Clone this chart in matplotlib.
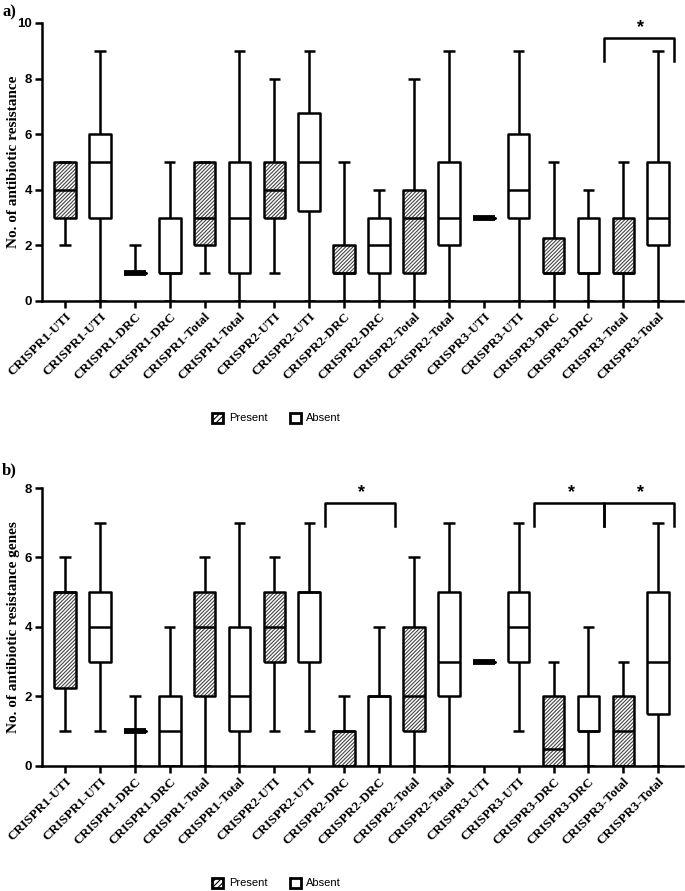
import numpy as np
from matplotlib import pyplot as plt
from matplotlib.patches import Rectangle, Patch

plt.rcParams['hatch.linewidth'] = 0.8
plt.rcParams['hatch.color'] = '#444444'

""" Data read from the figure """
labels = ['CRISPR1-UTI', 'CRISPR1-UTI', 'CRISPR1-DRC', 'CRISPR1-DRC',
          'CRISPR1-Total', 'CRISPR1-Total', 'CRISPR2-UTI', 'CRISPR2-UTI',
          'CRISPR2-DRC', 'CRISPR2-DRC', 'CRISPR2-Total', 'CRISPR2-Total',
          'CRISPR3-UTI', 'CRISPR3-UTI', 'CRISPR3-DRC', 'CRISPR3-DRC',
          'CRISPR3-Total', 'CRISPR3-Total']
present = [True, False] * 9

# panel a: antibiotic resistance
a_min = [2, 0, 1, 0, 1, 0, 1, 0, 0, 0, 0, 0, 3, 0, 0, 0, 0, 0]
a_q1 = [3, 3, 1, 1, 2, 1, 3, 3.25, 1, 1, 1, 2, 3, 3, 1, 1, 1, 2]
a_med = [4, 5, 1, 1, 3, 3, 4, 5, 1, 2, 3, 3, 3, 4, 1, 1, 1, 3]
a_q3 = [5, 6, 1, 3, 5, 5, 5, 6.75, 2, 3, 4, 5, 3, 6, 2.25, 3, 3, 5]
a_max = [5, 9, 2, 5, 5, 9, 8, 9, 5, 4, 8, 9, 3, 9, 5, 4, 5, 9]
a_sig = [(16, 17)]

# panel b: antibiotic resistance genes
b_min = [1, 1, 0, 0, 0, 0, 1, 1, 0, 0, 0, 0, 3, 1, 0, 0, 0, 0]
b_q1 = [2.25, 3, 1, 0, 2, 1, 3, 3, 0, 0, 1, 2, 3, 3, 0, 1, 0, 1.5]
b_med = [5, 4, 1, 1, 4, 2, 4, 5, 1, 2, 2, 3, 3, 4, 0.5, 1, 1, 3]
b_q3 = [5, 5, 1, 2, 5, 4, 5, 5, 1, 2, 4, 5, 3, 5, 2, 2, 2, 5]
b_max = [6, 7, 2, 4, 6, 7, 6, 7, 2, 4, 6, 7, 3, 7, 3, 4, 3, 7]
b_sig = [(8, 9), (14, 15), (16, 17)]

LW = 1.8
BOXW = 0.62
HATCH = '/' * 9
serif = 'Liberation Serif'
sans = 'Liberation Sans'


def draw_panel(ax, mins, q1, med, q3, maxs, sig, ymax, ystep, bracket_y, leg_y, star_y, ylabel):
    pos = np.arange(len(labels))
    stats = []
    for i in range(len(labels)):
        stats.append(dict(whislo=mins[i], q1=q1[i], med=med[i], q3=q3[i], whishi=maxs[i]))
    # hatching for the "present" boxes
    for i in pos:
        if present[i] and q3[i] > q1[i]:
            ax.add_patch(Rectangle((i - BOXW / 2, q1[i]), BOXW, q3[i] - q1[i],
                                   facecolor='white', edgecolor='#444444',
                                   hatch=HATCH, lw=0, zorder=1))
    lp = dict(color='black', linewidth=LW, solid_capstyle='butt')
    bp = ax.bxp(stats, positions=pos, widths=BOXW, capwidths=0.33, showfliers=False,
                boxprops=lp, whiskerprops=lp, capprops=lp,
                medianprops=dict(color='black', linewidth=LW), manage_ticks=False)
    for i, m in enumerate(bp['medians']):
        m.set_zorder(3)
        if q3[i] == q1[i]:
            m.set_linewidth(4.2)
            m.set_solid_capstyle('butt')
    # significance brackets
    for (i, j) in sig:
        x0, x1 = i - 0.55, j + 0.45
        ax.plot([x0, x0, x1, x1], [leg_y, bracket_y, bracket_y, leg_y],
                color='black', lw=LW, clip_on=False)
        ax.text((i + j) / 2, star_y, '*', ha='center', va='center',
                fontsize=13, fontweight='bold', family=sans)

    ax.set_xlim(-0.66, 17.71)
    ax.set_ylim(0, ymax)
    ax.set_yticks(np.arange(0, ymax + 0.1, ystep))
    ax.set_xticks(pos)
    ax.set_xticklabels(labels, rotation=45, ha='right', rotation_mode='anchor',
                       fontsize=9.5, fontweight='bold', family=serif)
    for t in ax.get_yticklabels():
        t.set_fontsize(9.5)
        t.set_fontweight('bold')
        t.set_family(sans)
    ax.tick_params(axis='both', direction='out', length=5, width=LW, pad=2)
    for s in ['top', 'right']:
        ax.spines[s].set_visible(False)
    for s in ['left', 'bottom']:
        ax.spines[s].set_linewidth(LW)
    ax.set_ylabel(ylabel, fontsize=11, fontweight='bold', family=serif)
    ax.yaxis.set_label_coords(-0.034, 0.5)


fig = plt.figure(figsize=(6.85, 8.91), dpi=100)
ax1 = fig.add_axes([0.0613, 0.6622, 0.9358, 0.3120])
ax2 = fig.add_axes([0.0613, 0.1403, 0.9358, 0.3120])

draw_panel(ax1, a_min, a_q1, a_med, a_q3, a_max, a_sig, 10, 2, 9.46, 8.65, 9.85,
           'No. of antibiotic resistance')
draw_panel(ax2, b_min, b_q1, b_med, b_q3, b_max, b_sig, 8, 2, 7.57, 6.9, 7.88,
           'No. of antibiotic resistance genes')

handles = [Patch(facecolor='white', edgecolor='black', hatch='/' * 6, lw=2, label='Present'),
           Patch(facecolor='white', edgecolor='black', lw=2, label='Absent')]
for ly in [1 - 418 / 891, 1 - 883 / 891]:
    fig.legend(handles=handles, loc='center', bbox_to_anchor=(0.404, ly), ncol=2,
               frameon=False, handlelength=1.0, handleheight=1.0, handletextpad=0.5,
               columnspacing=2.0, prop={'family': sans, 'size': 8})

fig.text(0.003, 1 - 12 / 891, 'a)', fontsize=12, fontweight='bold', family=serif, va='center')
fig.text(0.003, 1 - 470 / 891, 'b)', fontsize=12, fontweight='bold', family=serif, va='center')

plt.savefig('out.png', dpi=100)
